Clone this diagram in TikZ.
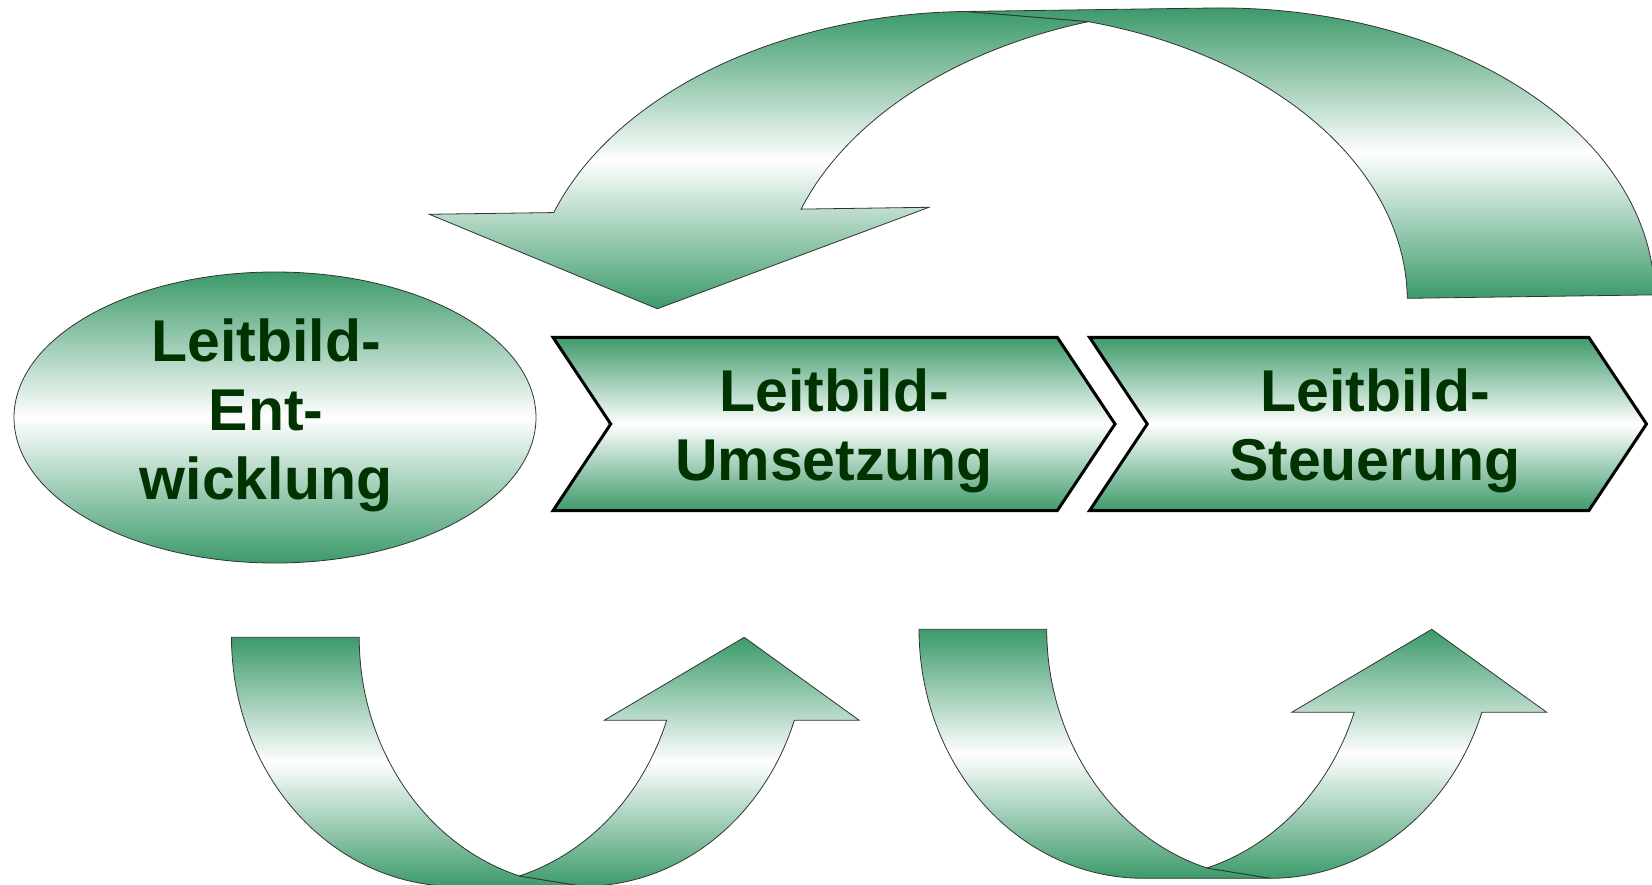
\documentclass[tikz,border=0pt]{standalone}
\usepackage{fontspec}
\setmainfont{Liberation Sans}
\usetikzlibrary{shapes.geometric,shapes.symbols}
\definecolor{leitgruen}{RGB}{60,154,106}
\definecolor{schrift}{RGB}{0,51,0}

\begin{document}
\begin{tikzpicture}[x=1pt,y=-1pt,
  band/.style={draw=black!80,line width=0.8pt,top color=leitgruen,bottom color=leitgruen,middle color=white},
  titel/.style={font=\fontsize{59}{69}\selectfont\bfseries,text=schrift,align=center,text depth=0pt}]
  \useasboundingbox (0,0) rectangle (1652,885);
  \clip (0,0) rectangle (1652,885);
  % Ellipse links
  \node[ellipse,band,inner sep=0pt,minimum width=522pt,minimum height=291pt] (entw) at (275,417.5) {};
  \node[titel] (entwtext) at (266,409.6) {Leitbild-\\Ent-\\wicklung};
  % die zwei Pfeilbloecke
  \node[signal,signal from=west,signal to=east,signal pointer angle=112.7,band,draw=black,line width=3pt,
        minimum width=562pt,minimum height=173.4pt] (umsetz) at (834,424) {};
  \node[signal,signal from=west,signal to=east,signal pointer angle=112.7,band,draw=black,line width=3pt,
        minimum width=557pt,minimum height=173.4pt] (steuer) at (1368,424) {};
  \node[titel] (umsetztext) at (834,425) {Leitbild-\\Umsetzung};
  \node[titel] (steuertext) at (1375,425) {Leitbild-\\Steuerung};
  % grosser Bogen oben
  \begin{scope}[rotate around={0.8:(1000,300)}]
    \draw[band] plot[domain=0:-90,samples=60] ({1216+438.7*cos(\x)},{304+293*sin(\x)}) -- (968.6,11) -- (1092.3,22.9)
       -- plot[domain=-73.62:0,samples=60] ({968.6+438.7*cos(\x)},{304+293*sin(\x)}) -- cycle;
    \draw[band] (657.2,304) -- (430.5,206.3)
       -- plot[domain=-160.53:-90,samples=60] ({968.6+438.7*cos(\x)},{304+293*sin(\x)}) -- (1092.3,22.9)
       -- plot[domain=-106.38:-160.53,samples=60] ({1216+438.7*cos(\x)},{304+293*sin(\x)}) -- (930.3,206.3) -- cycle;
  \end{scope}
  % die zwei Bogen unten
  \foreach \dx/\dy in {-687.5/8,0/0}{
    \begin{scope}[shift={(\dx,\dy)}]
      \draw[band] (919,629.3) -- plot[domain=180:90,samples=50] ({1143+224*cos(\x)},{629.3+249*sin(\x)})
         -- (1270.7,878.3) -- (1206.85,868)
         -- plot[domain=106.56:180,samples=50] ({1270.7+224*cos(\x)},{629.3+249*sin(\x)}) -- cycle;
      \draw[band] (1206.85,868) -- plot[domain=73.44:19.47,samples=50] ({1143+224*cos(\x)},{629.3+249*sin(\x)})
         -- (1291.7,712.3) -- (1431.7,629.3) -- (1546.7,712.3)
         -- plot[domain=19.47:90,samples=50] ({1270.7+224*cos(\x)},{629.3+249*sin(\x)}) -- cycle;
    \end{scope}
  }
\end{tikzpicture}
\end{document}
